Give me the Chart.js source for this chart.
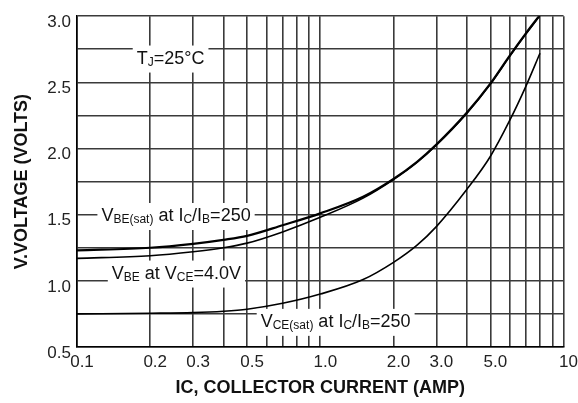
<!DOCTYPE html>
<html>
<head>
<meta charset="utf-8">
<script src="https://cdn.jsdelivr.net/npm/chart.js@4/dist/chart.umd.min.js"></script>
<style>
  html, body { margin: 0; padding: 0; background: #fff; }
  #wrap { width: 578px; height: 403px; }
</style>
</head>
<body>
<div id="wrap"><canvas id="c" width="578" height="403"></canvas></div>
<script>
// Collector current (A), log axis
const currentA = [0.1, 0.2, 0.3, 0.4, 0.5, 0.7, 1.0, 1.5, 2.0, 2.5, 3.0, 4.0, 5.0, 6.0, 7.0, 8.0];
// V_BE(sat) at IC/IB = 250
const vbeSat = [1.23, 1.25, 1.28, 1.31, 1.34, 1.42, 1.51, 1.635, 1.77, 1.90, 2.03, 2.27, 2.49, 2.70, 2.87, 3.01];
// V_BE at V_CE = 4.0 V
const vbeOn = [1.17, 1.19, 1.22, 1.25, 1.285, 1.37, 1.48, 1.625, 1.765, 1.895, 2.025, 2.265, 2.485, 2.695, 2.865, 3.005];
// V_CE(sat) at IC/IB = 250
const vceSat = [0.75, 0.755, 0.76, 0.77, 0.785, 0.83, 0.90, 1.01, 1.14, 1.27, 1.41, 1.69, 1.94, 2.21, 2.47, 2.72];

// Grid / tick values
const xGridValues = [0.1, 0.2, 0.3, 0.4, 0.5, 0.6, 0.7, 0.8, 0.9, 1, 2, 3, 4, 5, 6, 7, 8, 9, 10];
const xTickLabels = { 0.1: '0.1', 0.2: '0.2', 0.3: '0.3', 0.5: '0.5', 1: '1.0', 2: '2.0', 3: '3.0', 5: '5.0', 10: '10' };
const yTickLabels = ['0.5', '1.0', '1.5', '2.0', '2.5', '3.0'];

const FONT = '"Liberation Sans", Arial, sans-serif';
const INK = '#111';
const GRID = '#3a3a3a';

function pts(ys) { return currentA.map((x, i) => ({ x: x, y: ys[i] })); }

// Curve captions, built from normal and subscript pieces
const notes = [
  { at: [0.176, 2.68], parts: [{ t: 'T' }, { t: 'J', sub: true }, { t: '=25°C' }] },
  { at: [0.126, 1.49], parts: [{ t: 'V' }, { t: 'BE(sat)', sub: true }, { t: ' at I' }, { t: 'C', sub: true }, { t: '/I' }, { t: 'B', sub: true }, { t: '=250' }] },
  { at: [0.139, 1.055], parts: [{ t: 'V' }, { t: 'BE', sub: true }, { t: ' at V' }, { t: 'CE', sub: true }, { t: '=4.0V' }] },
  { at: [0.569, 0.69], parts: [{ t: 'V' }, { t: 'CE(sat)', sub: true }, { t: ' at I' }, { t: 'C', sub: true }, { t: '/I' }, { t: 'B', sub: true }, { t: '=250' }] }
];

const notesPlugin = {
  id: 'notes',
  afterDatasetsDraw(chart) {
    const { ctx, scales } = chart;
    const big = '18px ' + FONT, small = '12px ' + FONT;
    ctx.save();
    ctx.textBaseline = 'middle';
    notes.forEach(n => {
      const x0 = scales.x.getPixelForValue(n.at[0]);
      const yc = scales.y.getPixelForValue(n.at[1]);
      let w = 0;
      n.parts.forEach(p => { ctx.font = p.sub ? small : big; w += ctx.measureText(p.t).width; });
      ctx.fillStyle = '#fff';
      ctx.fillRect(x0 - 4, yc - 13, w + 8, 27);
      ctx.fillStyle = INK;
      let x = x0;
      n.parts.forEach(p => {
        ctx.font = p.sub ? small : big;
        ctx.textAlign = 'left';
        ctx.fillText(p.t, x, p.sub ? yc + 4 : yc);
        x += ctx.measureText(p.t).width;
      });
    });
    ctx.restore();
  }
};

new Chart(document.getElementById('c'), {
  type: 'line',
  data: {
    datasets: [
      { data: pts(vbeSat), borderColor: '#000', borderWidth: 2.2 },
      { data: pts(vbeOn), borderColor: '#000', borderWidth: 1.6 },
      { data: pts(vceSat), borderColor: '#000', borderWidth: 1.6 }
    ]
  },
  options: {
    responsive: false,
    animation: false,
    parsing: false,
    layout: { padding: { top: 9, right: 11, left: 0, bottom: 0 } },
    elements: {
      point: { radius: 0 },
      line: { cubicInterpolationMode: 'monotone', fill: false }
    },
    plugins: { legend: { display: false }, tooltip: { enabled: false } },
    scales: {
      x: {
        type: 'logarithmic',
        min: 0.1,
        max: 10,
        afterBuildTicks(scale) { scale.ticks = xGridValues.map(v => ({ value: v })); },
        afterFit(scale) { scale.height = 56; },
        grid: { color: GRID, lineWidth: 1.6, drawTicks: false },
        border: { color: '#000', width: 1.6 },
        ticks: {
          autoSkip: false,
          maxRotation: 0,
          padding: 5,
          labelOffset: 5,
          color: '#222',
          font: { family: FONT, size: 17 },
          callback(v) { return xTickLabels[v] || ''; }
        },
        title: {
          display: true,
          text: 'IC, COLLECTOR CURRENT (AMP)',
          color: INK,
          font: { family: FONT, size: 18, weight: 'bold' },
          padding: { top: 0, bottom: 4 }
        }
      },
      y: {
        min: 0.5,
        max: 3.0,
        afterFit(scale) { scale.width = 77; },
        grid: { color: GRID, lineWidth: 1.6, drawTicks: false },
        border: { color: '#000', width: 1.6 },
        ticks: {
          stepSize: 0.25,
          padding: 6,
          labelOffset: 6,
          color: '#222',
          font: { family: FONT, size: 17 },
          callback(v) {
            const s = Number(v).toFixed(1);
            return (Math.abs(v * 2 - Math.round(v * 2)) < 1e-6 && yTickLabels.includes(s)) ? s : '';
          }
        },
        title: {
          display: true,
          text: 'V.VOLTAGE (VOLTS)',
          color: INK,
          font: { family: FONT, size: 18, weight: 'bold' },
          padding: { top: 11, bottom: 0 }
        }
      }
    }
  },
  plugins: [notesPlugin]
});
</script>
</body>
</html>
